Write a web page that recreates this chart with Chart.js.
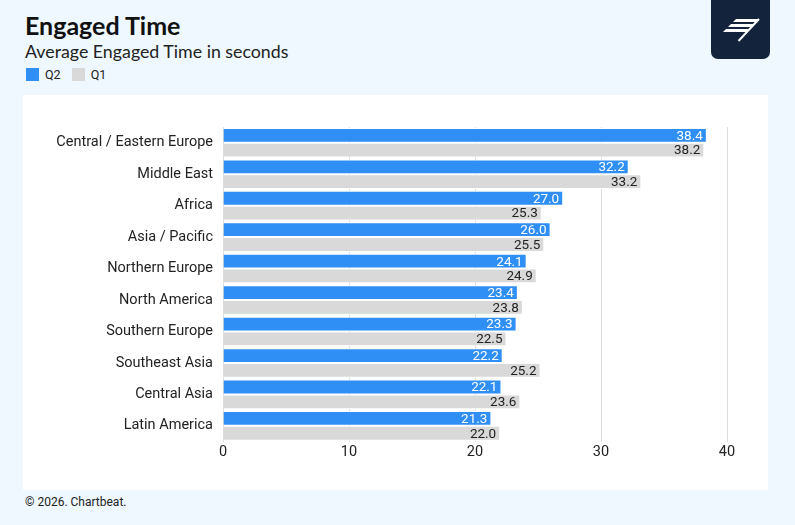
<!DOCTYPE html>
<html>
<head>
<meta charset="utf-8">
<script src="https://cdn.jsdelivr.net/npm/chart.js@4.4.1/dist/chart.umd.min.js"></script>
<style>
  html, body { margin: 0; padding: 0; }
  body {
    width: 795px; height: 525px; overflow: hidden; position: relative;
    background: #eff8fe; font-family: Lato, "Noto Sans", sans-serif; color: #111;
  }
  #title { position: absolute; left: 25px; top: 10px; font-size: 25px; font-weight: 700; }
  #subtitle { position: absolute; left: 25px; top: 40px; font-size: 17.8px; color: #222; }
  #legend { position: absolute; left: 26px; top: 67px; font-size: 12.5px; font-family: Roboto, sans-serif; color: #222; }
  #legend span.sw { display: inline-block; width: 13px; height: 13px; vertical-align: -2px; margin-right: 6px; }
  #legend span.lab { margin-right: 11px; }
  #logo { position: absolute; left: 711px; top: -10px; width: 59px; height: 69px; background: #12233b; border-radius: 7px; }
  #logoMark { position: absolute; left: 0; top: 0; }
  #panel { position: absolute; left: 23px; top: 95px; width: 745px; height: 395px; background: #fff; }
  #footer { position: absolute; left: 25px; top: 495px; font-size: 12px; font-family: Roboto, sans-serif; color: #222; }
</style>
</head>
<body>
<div id="title">Engaged Time</div>
<div id="subtitle">Average Engaged Time in seconds</div>
<div id="legend"><span class="sw" style="background:#2f8ff5"></span><span class="lab">Q2</span><span class="sw" style="background:#d9d9d9"></span><span class="lab">Q1</span></div>
<div id="logo"></div>
<svg id="logoMark" width="795" height="60">
  <polygon points="736,19 759,19 756.5,22 733,22" fill="#fff"/>
  <polygon points="731,24 753.5,24 751,27 728,27" fill="#fff"/>
  <polygon points="726,29 749,29 746.5,32 723,32" fill="#fff"/>
  <line x1="759" y1="19" x2="738.5" y2="41" stroke="#fff" stroke-width="2"/>
</svg>
<div id="panel"><canvas id="chart" width="745" height="395"></canvas></div>
<div id="footer">© 2026. Chartbeat.</div>

<script>
// Категории и значения
const regions = ['Central / Eastern Europe', 'Middle East', 'Africa', 'Asia / Pacific', 'Northern Europe',
    'North America', 'Southern Europe', 'Southeast Asia', 'Central Asia', 'Latin America'];
const q2Values = [38.4, 32.2, 27.0, 26.0, 24.1, 23.4, 23.3, 22.2, 22.1, 21.3];
const q1Values = [38.2, 33.2, 25.3, 25.5, 24.9, 23.8, 22.5, 25.2, 23.6, 22.0];
const xTicks = [0, 10, 20, 30, 40];

// Подписи значений внутри конца столбца
const barLabels = {
    id: 'barLabels',
    afterDatasetsDraw(chart) {
        const ctx = chart.ctx;
        ctx.save();
        ctx.font = '13.5px Roboto, sans-serif';
        ctx.textAlign = 'right';
        ctx.textBaseline = 'middle';
        chart.data.datasets.forEach((ds, i) => {
            chart.getDatasetMeta(i).data.forEach((bar, j) => {
                ctx.fillStyle = ds.labelColor;
                ctx.fillText(ds.data[j].toFixed(1), bar.x - 4, bar.y + 1);
            });
        });
        ctx.restore();
    }
};

new Chart(document.getElementById('chart'), {
    type: 'bar',
    data: {
        labels: regions,
        datasets: [{
            label: 'Q2',
            data: q2Values,
            backgroundColor: '#2f8ff5',
            borderColor: '#ffffff',
            borderWidth: 1,
            labelColor: '#ffffff'
        }, {
            label: 'Q1',
            data: q1Values,
            backgroundColor: '#d9d9d9',
            borderColor: '#ffffff',
            borderWidth: 1,
            labelColor: '#222222'
        }]
    },
    options: {
        indexAxis: 'y',
        responsive: false,
        animation: false,
        categoryPercentage: 0.94,
        barPercentage: 1.0,
        layout: { padding: { top: 32, right: 41, bottom: 27, left: 0 } },
        plugins: {
            legend: { display: false },
            tooltip: { enabled: false }
        },
        scales: {
            x: {
                min: 0,
                max: 40,
                afterBuildTicks(scale) { scale.ticks = xTicks.map(v => ({ value: v })); },
                grid: { color: '#dddddd', drawTicks: false },
                border: { display: false },
                ticks: { color: '#222', padding: 2, font: { family: 'Roboto', size: 14.5 } }
            },
            y: {
                grid: { display: false },
                border: { display: false },
                afterFit(scale) { scale.width = 200; },
                ticks: { color: '#222', padding: 2, font: { family: 'Roboto', size: 14.5 } }
            }
        }
    },
    plugins: [barLabels]
});
</script>
</body>
</html>
